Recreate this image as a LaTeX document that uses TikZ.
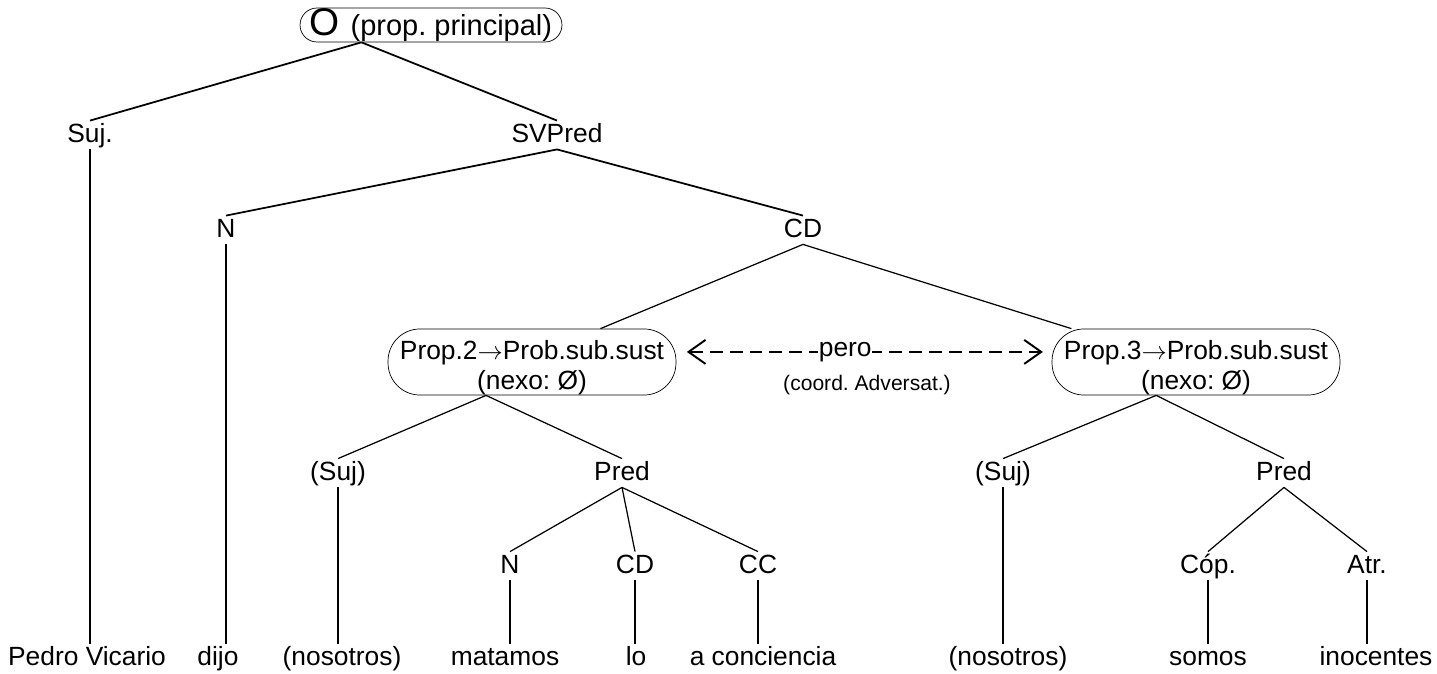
\documentclass[tikz,border=0pt]{standalone}
\usepackage{fontspec}
\setmainfont{Liberation Sans}
\usetikzlibrary{arrows.meta}
\frenchspacing

\begin{document}
\begin{tikzpicture}[x=0.02cm, y=-0.02cm]
    \tikzstyle{w} = [inner sep=1pt, text height=11pt, text depth=3pt, font=\fontsize{15}{17}\selectfont]
    \tikzstyle{prop} = [draw, rounded corners=0.64cm, align=center, minimum width=5.76cm, minimum height=1.3cm, inner sep=0pt, font=\fontsize{15}{17}\selectfont]
    \tikzstyle{br} = [line width=0.7pt]
    \tikzstyle{brt} = [line width=1pt]
    \useasboundingbox (0,0) rectangle (1437,673);

    \node[draw, rounded corners=0.34cm, minimum width=5.24cm, minimum height=0.68cm, inner sep=0pt] (o) at (431,25)
        {\fontsize{22}{22}\selectfont O \fontsize{16.5}{18}\selectfont(prop. principal)};
    \node[w] (suj) at (90,135) {Suj.};
    \node[w] (svp) at (557,135) {SVPred};
    \node[w] (n1) at (226,230) {N};
    \node[w] (cd1) at (803,230) {CD};
    \node[prop] (p2) at (532,362) {\rule{0pt}{17.5pt}Prop.2$\rightarrow$Prob.sub.sust\\(nexo: Ø)};
    \node[prop] (p3) at (1196,362) {\rule{0pt}{17.5pt}Prop.3$\rightarrow$Prob.sub.sust\\(nexo: Ø)};
    \node[w] (sj2) at (338,473) {(Suj)};
    \node[w] (pr2) at (622,473) {Pred};
    \node[w] (n2) at (510,566) {N};
    \node[w] (cd2) at (635,566) {CD};
    \node[w] (cc2) at (758,566) {CC};
    \node[w] (sj3) at (1003,473) {(Suj)};
    \node[w] (pr3) at (1284,473) {Pred};
    \node[w] (cop) at (1208,566) {Cóp.};
    \node[w] (atr) at (1367,566) {Atr.};

    \node[w] (pv) at (87,658) {Pedro Vicario};
    \node[w] (dijo) at (218,658) {dijo};
    \node[w] (nos2) at (342,658) {(nosotros)};
    \node[w] (mat) at (505,658) {matamos};
    \node[w] (lo) at (636,658) {lo};
    \node[w] (conc) at (763,658) {a conciencia};
    \node[w] (nos3) at (1008,658) {(nosotros)};
    \node[w] (som) at (1208,658) {somos};
    \node[w] (ino) at (1376,658) {inocentes};

    \draw[brt] (o.194) -- (suj.north);
    \draw[brt] (o.194) -- (svp.north);
    \draw[brt] (suj.south) -- (suj.south |- pv.north);
    \draw[brt] (svp.south) -- (n1.north);
    \draw[brt] (svp.south) -- (cd1.north);
    \draw[br] (n1.south) -- (n1.south |- dijo.north);
    \draw[br] (cd1.south) -- (p2.26);
    \draw[br] (cd1.south) -- (p3.165);

    \draw[br] (p2.216) -- (sj2.north);
    \draw[br] (p2.216) -- (pr2.north);
    \draw[br] (sj2.south) -- (sj2.south |- nos2.north);
    \draw[br] (pr2.south) -- (n2.north);
    \draw[br] (pr2.south) -- (cd2.north);
    \draw[br] (pr2.south) -- (cc2.north);
    \draw[br] (n2.south) -- (n2.south |- mat.north);
    \draw[br] (cd2.south) -- (cd2.south |- lo.north);
    \draw[br] (cc2.south) -- (cc2.south |- conc.north);

    \draw[br] (p3.220) -- (sj3.north);
    \draw[br] (p3.220) -- (pr3.north);
    \draw[br] (sj3.south) -- (sj3.south |- nos3.north);
    \draw[br] (pr3.south) -- (cop.north);
    \draw[br] (pr3.south) -- (atr.north);
    \draw[br] (cop.south) -- (cop.south |- som.north);
    \draw[br] (atr.south) -- (atr.south |- ino.north);

    \draw[line width=1.1pt, dash pattern=on 0.26cm off 0.14cm, {Straight Barb[length=0.34cm, width=0.48cm]}-{Straight Barb[length=0.34cm, width=0.48cm]}, shorten <=6, shorten >=5]
        (p2.4) -- node[pos=0.45, fill=white, inner sep=0.5pt, font=\fontsize{15}{17}\selectfont] (pero) {pero} (p3.176);
    \node[font=\fontsize{12}{14}\selectfont] (coord) at (867,385) {(coord. Adversat.)};
\end{tikzpicture}
\end{document}
